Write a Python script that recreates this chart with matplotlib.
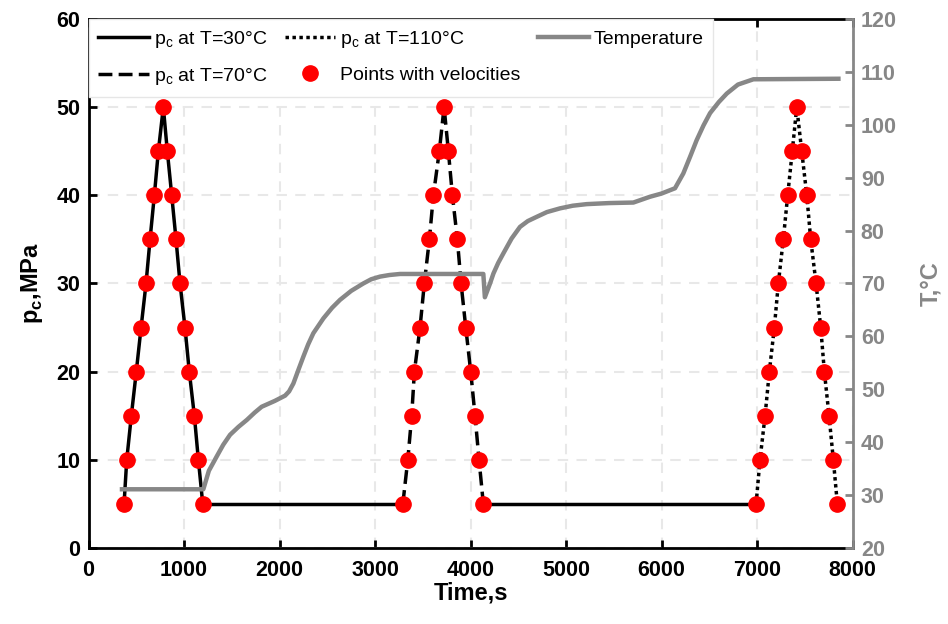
import matplotlib
matplotlib.use('Agg')
import matplotlib.pyplot as plt
import numpy as np

plt.rcParams['font.family'] = ['Liberation Sans', 'DejaVu Sans']

# pressure cycles (time in s, pc in MPa)
pressure = [5, 10, 15, 20, 25, 30, 35, 40, 45, 50, 45, 40, 35, 30, 25, 20, 15, 10, 5]
time_30 = [372, 400, 448, 500, 550, 602, 644, 689, 731, 783, 825, 871, 916, 958, 1010, 1055, 1108, 1150, 1196]
time_70 = [3291, 3343, 3384, 3412, 3471, 3516, 3569, 3611, 3673, 3723, 3768, 3810, 3862, 3901, 3950, 4002, 4047, 4089, 4134]
time_110 = [6990, 7031, 7084, 7129, 7181, 7223, 7275, 7321, 7369, 7416, 7468, 7521, 7562, 7618, 7667, 7705, 7754, 7799, 7841]

# holds at low pressure between cycles
hold1_time = [1196, 3291]
hold2_time = [4134, 6990]
hold_p = [5, 5]

# temperature record
temp_time = [350, 1202, 1260, 1342, 1410, 1482, 1570, 1657, 1740, 1813, 1950, 2058, 2100, 2145,
             2200, 2250, 2300, 2354, 2459, 2550, 2633, 2750, 2877, 2960, 3052, 3150, 3262,
             4134, 4150, 4204, 4240, 4290, 4344, 4430, 4518, 4600, 4693, 4800, 4937, 5070,
             5216, 5450, 5705, 5880, 6000, 6141, 6228, 6300, 6368, 6440, 6508, 6600, 6683,
             6800, 6962, 7852]
temp_vals = [31.1, 31.1, 34.6, 37.3, 39.5, 41.4, 42.9, 44.2, 45.6, 46.7, 47.8, 48.8, 49.6, 51.1,
             53.8, 56.2, 58.5, 60.6, 63.4, 65.4, 66.9, 68.6, 70.0, 70.8, 71.3, 71.6, 71.8,
             71.8, 67.4, 70.0, 71.9, 73.9, 75.7, 78.5, 80.7, 81.8, 82.6, 83.5, 84.2, 84.7,
             85.0, 85.2, 85.3, 86.4, 87.0, 88.0, 90.8, 94.0, 97.1, 99.9, 102.2, 104.3, 105.9,
             107.6, 108.6, 108.7]

gray = '#878787'

fig = plt.figure(figsize=(9.48, 6.24), dpi=100)
ax1 = fig.add_axes([0.0934, 0.1218, 0.8059, 0.8478])
ax2 = ax1.twinx()

l30, = ax1.plot(time_30, pressure, color='black', lw=2.5, label=r'p$_\mathregular{c}$ at T=30°C')
ax1.plot(hold1_time, hold_p, color='black', lw=2.5)
ax1.plot(hold2_time, hold_p, color='black', lw=2.5)
l70, = ax1.plot(time_70, pressure, color='black', lw=2.5, ls=(0, (4, 1.8)),
                label=r'p$_\mathregular{c}$ at T=70°C')
l110, = ax1.plot(time_110, pressure, color='black', lw=2.5, ls=(0, (1, 1)),
                 label=r'p$_\mathregular{c}$ at T=110°C')
pts, = ax1.plot(time_30 + time_70 + time_110, pressure * 3, ls='none', marker='o',
                ms=11, color='#ff0000', label='Points with velocities', zorder=4)

lt, = ax2.plot(temp_time, temp_vals, color=gray, lw=3.2, label='Temperature')

ax1.set_xlim(0, 8000)
ax1.set_ylim(0, 60)
ax2.set_ylim(20, 120)
ax1.set_xticks(np.arange(0, 8001, 1000))
ax1.set_yticks(np.arange(0, 61, 10))
ax2.set_yticks(np.arange(20, 121, 10))

ax1.grid(True, color='#e8e8e8', ls=(0, (5, 4)), lw=1.5)
ax1.set_axisbelow(True)

for s in ['left', 'bottom', 'top']:
    ax1.spines[s].set_linewidth(2)
ax1.spines['right'].set_visible(False)
for s in ['left', 'bottom', 'top']:
    ax2.spines[s].set_visible(False)
ax2.spines['right'].set_color(gray)
ax2.spines['right'].set_linewidth(2)

ax1.tick_params(direction='in', length=6, width=2, labelsize=15.5, top=True)
ax1.tick_params(axis='x', pad=9)
ax1.tick_params(axis='y', pad=6)
ax2.tick_params(direction='in', length=6, width=2, labelsize=15.5, colors=gray, pad=6)
for lab in ax1.get_xticklabels() + ax1.get_yticklabels() + ax2.get_yticklabels():
    lab.set_fontweight('bold')

ax1.set_xlabel('Time,s', fontsize=17, fontweight='bold', labelpad=0)
ax1.set_ylabel(r'p$_\mathregular{c}$,MPa', fontsize=17, fontweight='bold', labelpad=8)
ax2.set_ylabel('T,°C', fontsize=17, fontweight='bold', color=gray, labelpad=16)

leg = ax2.legend(handles=[l30, l70, l110, pts, lt], loc='upper left', ncol=3,
                 fontsize=14, frameon=True, fancybox=False, borderaxespad=0,
                 handlelength=2.6, handletextpad=0.25, columnspacing=0.9,
                 labelspacing=0.85, borderpad=0.5)
leg.get_frame().set_edgecolor('#e6e6e6')
leg.get_frame().set_linewidth(1)
leg.get_frame().set_alpha(1)

fig.savefig('out.png', dpi=100)
